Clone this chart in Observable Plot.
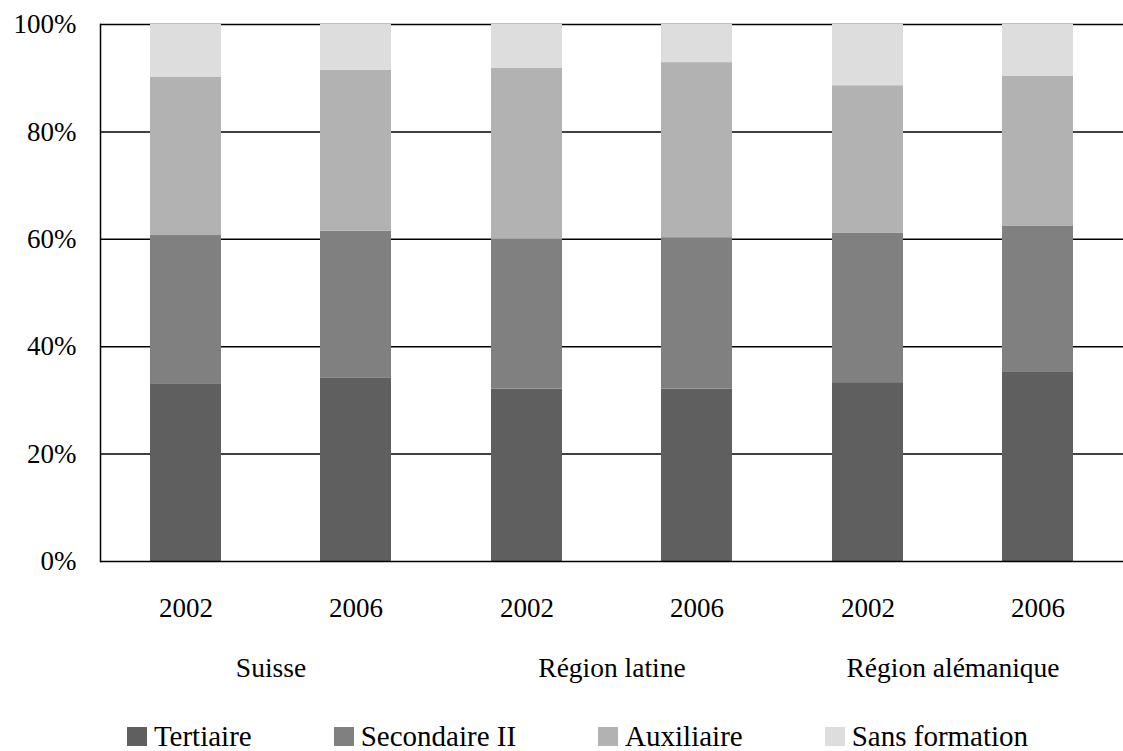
<!DOCTYPE html>
<html>
<head>
<meta charset="utf-8">
<script src="https://cdn.jsdelivr.net/npm/d3@7"></script>
<script src="https://cdn.jsdelivr.net/npm/@observablehq/plot@0.6"></script>
<style>
  html, body { margin: 0; padding: 0; background: #fff; }
  #chart svg { display: block; }
  #legend {
    display: flex; justify-content: center; gap: 82px;
    font-family: "Liberation Serif", "Times New Roman", serif;
    font-size: 29px; line-height: 30px; color: #000;
    margin-left: 32px;
  }
  #legend .item { display: flex; align-items: center; }
  #legend .sw { width: 20px; height: 19px; margin-right: 7px; }
  .fxlab text { font-size: 27.5px; }
</style>
</head>
<body>
<div id="chart"></div>
<div id="legend"></div>
<script>
const regions = ["Suisse", "Région latine", "Région alémanique"];
const years = ["2002", "2006"];
const levels = ["Tertiaire", "Secondaire II", "Auxiliaire", "Sans formation"];
const colors = ["#5f5f5f", "#808080", "#b2b2b2", "#dddddd"];
// order: Suisse 2002, Suisse 2006, Latine 2002, Latine 2006, Alémanique 2002, Alémanique 2006
const tertiaire     = [33.1, 34.1, 32.1, 32.1, 33.3, 35.2];
const secondaire    = [27.6, 27.4, 27.9, 28.2, 27.8, 27.2];
const auxiliaire    = [29.5, 30.0, 31.8, 32.6, 27.5, 28.0];
const sansFormation = [ 9.8,  8.5,  8.2,  7.1, 11.4,  9.6];
const yTicks = [0, 20, 40, 60, 80, 100];

const series = [tertiaire, secondaire, auxiliaire, sansFormation];
const data = [];
regions.forEach((r, ri) => {
  years.forEach((y, yi) => {
    const i = ri * 2 + yi;
    levels.forEach((l, li) => {
      data.push({region: r, year: y, level: l, value: series[li][i]});
    });
  });
});

const font = '"Liberation Serif", "Times New Roman", serif';

const chart = Plot.plot({
  width: 1123,
  height: 721,
  marginTop: 24,
  marginBottom: 160,
  marginLeft: 100,
  marginRight: 0,
  style: {fontFamily: font, fontSize: "27px", color: "#000", background: "#fff"},
  fx: {domain: regions, padding: 0, label: null},
  x: {domain: years, paddingInner: 0.584, paddingOuter: 0.292, label: null},
  y: {domain: [0, 100], label: null},
  color: {domain: levels, range: colors},
  marks: [
    Plot.ruleY(yTicks.filter(d => d > 0), {stroke: "#000", strokeWidth: 1.5}),
    Plot.barY(data, Plot.stackY({fx: "region", x: "year", y: "value", fill: "level", order: levels})),
    Plot.ruleY([0], {stroke: "#000", strokeWidth: 1.5}),
    Plot.frame({anchor: "left", facetAnchor: "left", stroke: "#000", strokeWidth: 1.5}),
    Plot.axisY({ticks: yTicks, tickSize: 0, tickPadding: 24, tickFormat: d => d + "%", label: null}),
    Plot.axisX({tickSize: 0, tickPadding: 36, label: null}),
    Plot.axisFx({anchor: "bottom", tickSize: 0, tickPadding: 96, label: null, className: "fxlab"})
  ]
});
document.getElementById("chart").appendChild(chart);

const legend = document.getElementById("legend");
levels.forEach((l, i) => {
  const item = document.createElement("div");
  item.className = "item";
  const sw = document.createElement("span");
  sw.className = "sw";
  sw.style.background = colors[i];
  const t = document.createElement("span");
  t.textContent = l;
  item.appendChild(sw);
  item.appendChild(t);
  legend.appendChild(item);
});
</script>
</body>
</html>
